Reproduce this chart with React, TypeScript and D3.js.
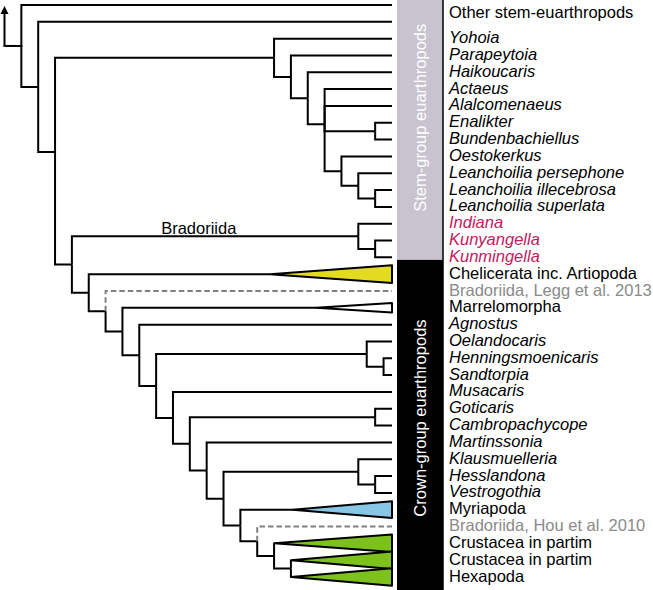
import React from "react";
import * as d3 from "d3";

const W = 653;
const H = 590;

// ---- data ----
const tipNames: string[] = [
  "Other stem-euarthropods", "",
  "Yohoia", "Parapeytoia", "Haikoucaris", "Actaeus", "Alalcomenaeus",
  "Enalikter", "Bundenbachiellus", "Oestokerkus",
  "Leanchoilia persephone", "Leanchoilia illecebrosa", "Leanchoilia superlata",
  "Indiana", "Kunyangella", "Kunmingella",
  "Chelicerata inc. Artiopoda", "Bradoriida, Legg et al. 2013", "Marrelomorpha",
  "Agnostus", "Oelandocaris", "Henningsmoenicaris", "Sandtorpia", "Musacaris",
  "Goticaris", "Cambropachycope", "Martinssonia", "Klausmuelleria",
  "Hesslandona", "Vestrogothia",
  "Myriapoda", "Bradoriida, Hou et al. 2010",
  "Crustacea in partim", "Crustacea in partim", "Hexapoda",
];

// r = roman, i = italic, p = pink italic, g = grey roman
const tipKinds: string[] = [
  "r", "r",
  "i", "i", "i", "i", "i", "i", "i", "i", "i", "i", "i",
  "p", "p", "p",
  "r", "g", "r",
  "i", "i", "i", "i", "i", "i", "i", "i", "i", "i", "i",
  "r", "g", "r", "r", "r",
];

// tree: clade = { lv: node level, at?: row override, ch: children }, tip = row index
type Node = number | { lv: number; at?: number; ch: Node[] };

const treeStem: Node = {
  lv: 16, ch: [2, { lv: 17, ch: [3, { lv: 18, ch: [4, { lv: 19, ch: [
    5, 6,
    { lv: 22, ch: [7, 8] },
    { lv: 20, ch: [9, { lv: 21, ch: [10, { lv: 22, ch: [11, 12] }] }] },
  ] }] }] }],
};
const treeBradoriida: Node = { lv: 21, ch: [13, { lv: 22, ch: [14, 15] }] };
const treeS: Node = { lv: 21.5, ch: [20, { lv: 22.5, ch: [21, 22] }] };
const treeZ: Node = { lv: 14, ch: [30, { lv: 15, ch: [31, { lv: 16, ch: [32, { lv: 17, ch: [33, 34] }] }] }] };
const treeW: Node = { lv: 12, ch: [26, { lv: 13, ch: [{ lv: 21, ch: [27, { lv: 22, ch: [28, 29] }] }, treeZ] }] };
const treeT: Node = { lv: 10, ch: [23, { lv: 11, ch: [{ lv: 22, ch: [24, 25] }, treeW] }] };
const treeCrown: Node = {
  lv: 5, ch: [16, { lv: 6, ch: [17, { lv: 7, ch: [18, { lv: 8, ch: [19, { lv: 9, ch: [treeS, treeT] }] }] }] }],
};
const tree: Node = {
  lv: 1, ch: [0, { lv: 2, ch: [1, { lv: 3, at: 8.74, ch: [treeStem, { lv: 4, ch: [treeBradoriida, treeCrown] }] }] }],
};

const collapsed = [
  { tip: 16, apex: 15.75, half: 0.53, fill: "#e2db22" },
  { tip: 18, apex: 18.5, half: 0.28, fill: "#ffffff" },
  { tip: 30, apex: 17.1, half: 0.5, fill: "#87c6e5" },
  { tip: 32, apex: 16, half: 0.52, fill: "#7cc11c" },
  { tip: 33, apex: 17, half: 0.52, fill: "#7cc11c" },
  { tip: 34, apex: 17, half: 0.52, fill: "#7cc11c" },
];
const dashedTips = [17, 31];

const groups = [
  { name: "Stem-group euarthropods", from: -0.3, to: 15.15, fill: "#c8c3cf", labelRow: 6.7 },
  { name: "Crown-group euarthropods", from: 15.15, to: 35.5, fill: "#000000", labelRow: 24.55 },
];

const cladeLabels = [{ text: "Bradoriida", lv: 9.3, row: 13.77 }];

const TIP_LEVEL = 23;
const N_ROWS = 34;

// ---- layout ----
const x = d3.scaleLinear().domain([0, TIP_LEVEL]).range([4.5, 392]);
const y = d3.scaleLinear().domain([0, N_ROWS]).range([5, 577]);

function rowOf(n: Node): number {
  if (typeof n === "number") return n;
  if (n.at !== undefined) return n.at;
  return d3.mean(n.ch.map(rowOf)) as number;
}

export default function App() {
  const links: { d: string; dashed: boolean }[] = [];
  const collapsedMap = new Map(collapsed.map((c) => [c.tip, c]));

  function walk(n: Node) {
    if (typeof n === "number") return;
    const pr = rowOf(n);
    for (const c of n.ch) {
      const cr = rowOf(c);
      let clv: number;
      if (typeof c === "number") {
        const col = collapsedMap.get(c);
        clv = col ? col.apex : TIP_LEVEL;
      } else clv = c.lv;
      const p = d3.path();
      p.moveTo(x(n.lv), y(pr));
      p.lineTo(x(n.lv), y(cr));
      p.lineTo(x(clv), y(cr));
      links.push({ d: p.toString(), dashed: typeof c === "number" && dashedTips.includes(c) });
      walk(c);
    }
  }
  walk(tree);

  const rootRow = rowOf(tree);
  const rootLv = (tree as any).lv as number;

  // tip labels (empty name continues previous label)
  const labels: { text: string; row: number; kind: string }[] = [];
  tipNames.forEach((t, i) => {
    if (t === "" && labels.length) {
      const last = labels[labels.length - 1];
      last.row = (last.row + i) / 2;
    } else labels.push({ text: t, row: i, kind: tipKinds[i] });
  });

  const barX0 = 397;
  const barX1 = 443;
  const font = "'Liberation Sans', Arial, Helvetica, sans-serif";

  return (
    <svg
      width={W}
      height={H}
      viewBox={`0 0 ${W} ${H}`}
      style={{ position: "absolute", left: 0, top: 0, display: "block", background: "#fff" }}
      fontFamily={font}
    >
      <rect x={0} y={0} width={W} height={H} fill="#fff" />
      {/* group bars */}
      {groups.map((g) => {
        const y0 = Math.max(0, y(g.from));
        const y1 = Math.min(H, y(g.to));
        const cy = y(g.labelRow);
        const cx = (barX0 + barX1) / 2;
        return (
          <g key={g.name}>
            <rect x={barX0} y={y0} width={barX1 - barX0} height={y1 - y0} fill={g.fill} />
            <line x1={barX1} x2={barX1} y1={y0} y2={y1} stroke="#000" strokeWidth={1.5} />
            <text
              x={cx}
              y={cy}
              transform={`rotate(-90 ${cx} ${cy})`}
              textAnchor="middle"
              dominantBaseline="central"
              fill="#fff"
              fontSize={16.5}
            >
              {g.name}
            </text>
          </g>
        );
      })}

      {/* root arrow */}
      <path
        d={`M${x(0)},${y(rootRow)}H${x(rootLv)}`}
        stroke="#000"
        strokeWidth={2}
        fill="none"
        strokeLinecap="square"
      />
      <path d={`M${x(0)},${y(rootRow)}V${y(0) + 8}`} stroke="#000" strokeWidth={2} fill="none" />
      <path
        d={`M${x(0)},${y(0) + 1}L${x(0) - 4},${y(0) + 9}L${x(0) + 4},${y(0) + 9}Z`}
        fill="#000"
      />

      {/* branches */}
      {links.map((l, i) => (
        <path
          key={i}
          d={l.d}
          fill="none"
          stroke={l.dashed ? "#808080" : "#000"}
          strokeWidth={2}
          strokeDasharray={l.dashed ? "5.5,3" : undefined}
          strokeLinejoin="miter"
        />
      ))}

      {/* collapsed clades */}
      {collapsed.map((c) => (
        <polygon
          key={c.tip}
          points={[
            [x(c.apex), y(c.tip)],
            [x(TIP_LEVEL), y(c.tip - c.half)],
            [x(TIP_LEVEL), y(c.tip + c.half)],
          ]
            .map((p) => p.join(","))
            .join(" ")}
          fill={c.fill}
          stroke="#000"
          strokeWidth={2}
          strokeLinejoin="round"
        />
      ))}

      {/* clade labels */}
      {cladeLabels.map((c) => (
        <text key={c.text} x={x(c.lv)} y={y(c.row) - 3} fontSize={16.5} fill="#000">
          {c.text}
        </text>
      ))}

      {/* tip labels */}
      {labels.map((l, i) => (
        <text
          key={i}
          x={449}
          y={y(l.row) + 4.5}
          fontSize={16.5}
          fontStyle={l.kind === "i" || l.kind === "p" ? "italic" : "normal"}
          fill={l.kind === "p" ? "#c4195d" : l.kind === "g" ? "#8a8a8a" : "#000"}
        >
          {l.text}
        </text>
      ))}
    </svg>
  );
}
